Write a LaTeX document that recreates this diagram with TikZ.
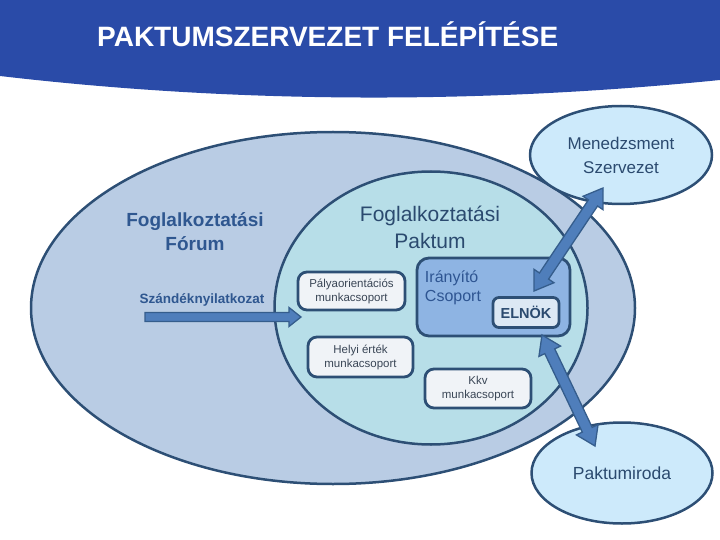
\documentclass[tikz,border=0pt]{standalone}
\usepackage{fontspec}
\setmainfont{Liberation Sans}
\usetikzlibrary{shapes.geometric, calc, positioning}

\definecolor{headblue}{HTML}{2A4BA8}
\definecolor{forumfill}{HTML}{B9CCE4}
\definecolor{paktfill}{HTML}{B7DEE8}
\definecolor{edge}{HTML}{2D4F75}
\definecolor{wgfill}{HTML}{F0F3F7}
\definecolor{iranyfill}{HTML}{8EB4E3}
\definecolor{elnokfill}{HTML}{DCE8F4}
\definecolor{orgfill}{HTML}{CDEAFB}
\definecolor{arrowfill}{HTML}{4F7EBB}
\definecolor{arrowline}{HTML}{355D8C}
\definecolor{forumtext}{HTML}{2F5790}
\definecolor{darktext}{HTML}{2B4A6F}
\definecolor{greytext}{HTML}{3A4656}
\definecolor{iranytext}{HTML}{2E5592}

\newcommand{\fsz}[2]{\fontsize{#1}{#2}\selectfont}
% block arrow: #1 from, #2 to, #3 half shaft, #4 half head, #5 head length
\newcommand{\dblarrow}[5]{%
  \filldraw[arrowfill, draw=arrowline, line width=1.3pt, line join=miter]
    (#1) -- ($(#1)!#5!(#2)!#4!90:(#2)$) -- ($(#1)!#5!(#2)!#3!90:(#2)$)
    -- ($(#2)!#5!(#1)!#3!-90:(#1)$) -- ($(#2)!#5!(#1)!#4!-90:(#1)$)
    -- (#2) -- ($(#2)!#5!(#1)!#4!90:(#1)$) -- ($(#2)!#5!(#1)!#3!90:(#1)$)
    -- ($(#1)!#5!(#2)!#3!-90:(#2)$) -- ($(#1)!#5!(#2)!#4!-90:(#2)$) -- cycle;}
\newcommand{\sglarrow}[5]{%
  \filldraw[arrowfill, draw=arrowline, line width=1.3pt, line join=miter]
    ($(#1)!#3!90:(#2)$) -- ($(#2)!#5!(#1)!#3!-90:(#1)$) -- ($(#2)!#5!(#1)!#4!-90:(#1)$)
    -- (#2) -- ($(#2)!#5!(#1)!#4!90:(#1)$) -- ($(#2)!#5!(#1)!#3!90:(#1)$)
    -- ($(#1)!#3!-90:(#2)$) -- cycle;}

\begin{document}
\begin{tikzpicture}[x=1pt, y=-1pt]
  \tikzstyle{oval} = [ellipse, draw=edge, line width=2.5pt]
  \tikzstyle{wg} = [draw=edge, line width=2.8pt, fill=wgfill, rounded corners=9pt, align=center, text=greytext, font=\fsz{11.5}{14}]
  \tikzstyle{org} = [oval, fill=orgfill, align=center, text=darktext]
  \useasboundingbox (0,0) rectangle (720,540);

  % header band
  \fill[headblue] (0,0) -- (720,0) -- (720,80) .. controls (480,104) and (240,104) .. (0,76) -- cycle;
  \node[anchor=base west, inner sep=0, text=white, font=\bfseries\fsz{28}{30}] (title) at (97,47) {PAKTUMSZERVEZET FELÉPÍTÉSE};

  % forum and paktum
  \node[oval, fill=forumfill, minimum width=604, minimum height=352] (forum) at (333,308) {};
  \node[oval, fill=paktfill, minimum width=313, minimum height=273] (paktum) at (431,308) {};
  \node[align=center, text=forumtext, font=\bfseries\fsz{19}{24}] (forumlbl) at (195,232) {Foglalkoztatási\\Fórum};
  \node[align=center, text=darktext, font=\fsz{21}{27}] (paktlbl) at (430,227) {Foglalkoztatási\\Paktum};
  \node[text=forumtext, font=\bfseries\fsz{13.5}{16}] (szandek) at (202,300) {Szándéknyilatkozat};

  % working groups
  \node[wg, minimum width=107, minimum height=38] (paly) at (351.5,291) {Pályaorientációs\\munkacsoport};
  \node[wg, minimum width=105, minimum height=40] (helyi) at (360.5,357) {Helyi érték\\munkacsoport};
  \node[wg, minimum width=106, minimum height=39] (kkv) at (478,388.5) {Kkv\\munkacsoport};
  \node[draw=edge, line width=2.8pt, fill=iranyfill, rounded corners=12pt, minimum width=153, minimum height=78] (irany) at (493.5,297) {};
  \node[align=left, text=iranytext, font=\fsz{16}{19}] (iranylbl) at (453,288) {Irányító\\Csoport};
  \node[draw=edge, line width=2.8pt, fill=elnokfill, rounded corners=6pt, minimum width=66, minimum height=30, text=darktext, font=\bfseries\fsz{14.5}{16}] (elnok) at (526,312.5) {ELNÖK};

  % outside bodies
  \node[org, minimum width=182, minimum height=98, font=\fsz{17}{24}] (menedzsment) at (621,155) {Menedzsment\\Szervezet};
  \node[org, minimum width=181, minimum height=101, font=\fsz{17.5}{20}] (iroda) at (622,473) {Paktumiroda};

  % arrows
  \coordinate (szstart) at (145,317);
  \coordinate (szend) at (301,317);
  \coordinate (elnoktop) at (534,291);
  \coordinate (mentip) at (603,188);
  \coordinate (elnokbot) at (542,335);
  \coordinate (irodatip) at (595,446);
  \sglarrow{szstart}{szend}{4.5pt}{9.5pt}{12pt}
  \dblarrow{elnoktop}{mentip}{5.5pt}{12pt}{18pt}
  \dblarrow{elnokbot}{irodatip}{5.5pt}{12pt}{18pt}
\end{tikzpicture}
\end{document}
